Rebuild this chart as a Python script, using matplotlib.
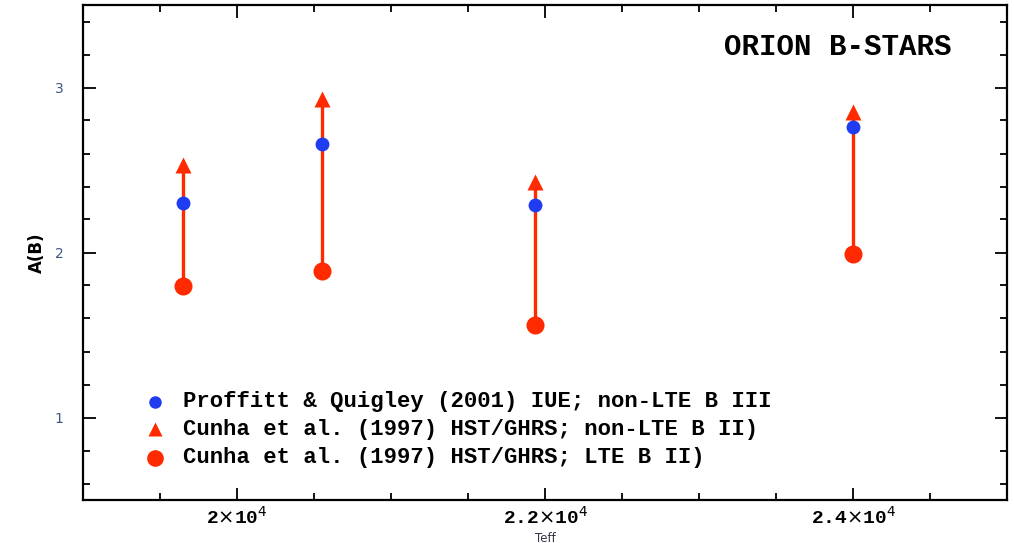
import matplotlib
matplotlib.use("Agg")
import matplotlib.pyplot as plt
from matplotlib.ticker import MultipleLocator

# Teff of the four Orion B stars
teff = [19650, 20550, 21935, 24000]
# boron abundances
pq_nlte = [2.30, 2.66, 2.29, 2.76]      # Proffitt & Quigley (2001)
cunha_nlte = [2.53, 2.93, 2.43, 2.85]   # Cunha et al. (1997) non-LTE
cunha_lte = [1.80, 1.89, 1.56, 1.99]    # Cunha et al. (1997) LTE

xticks = [20000, 22000, 24000]
xticklabels = [r'2$\times$10$^4$', r'2.2$\times$10$^4$', r'2.4$\times$10$^4$']
yticks = [1, 2, 3]

legend_labels = ['Proffitt & Quigley (2001) IUE; non-LTE B III',
                 'Cunha et al. (1997) HST/GHRS; non-LTE B II)',
                 'Cunha et al. (1997) HST/GHRS; LTE B II)']

red = '#ff2a00'
blue = '#1f3cf0'
mono = 'Liberation Mono'

fig = plt.figure(figsize=(10.14, 5.43), dpi=100)
ax = fig.add_axes([83 / 1014, 43 / 543, 924 / 1014, 495 / 543])

ax.vlines(teff, cunha_lte, cunha_nlte, color=red, lw=2.4, zorder=2)
ax.plot(teff, cunha_nlte, '^', color=red, ms=12, mec='none', zorder=3)
ax.plot(teff, cunha_lte, 'o', color=red, ms=13, mec='none', zorder=3)
ax.plot(teff, pq_nlte, 'o', color=blue, ms=10, mec='none', zorder=4)

ax.set_xlim(19000, 25000)
ax.set_ylim(0.5, 3.5)
ax.set_xticks(xticks)
ax.set_xticklabels(xticklabels, fontfamily=mono, fontweight='bold', fontsize=14)
ax.set_yticks(yticks)
ax.set_yticklabels([str(v) for v in yticks], fontsize=10, color='#3b5680')
ax.xaxis.set_minor_locator(MultipleLocator(500))
ax.yaxis.set_minor_locator(MultipleLocator(0.2))
ax.tick_params(which='both', direction='in', top=True, right=True, width=1.3)
ax.tick_params(which='major', length=9, pad=4)
ax.tick_params(which='minor', length=5)
ax.tick_params(axis='y', pad=14)
for s in ax.spines.values():
    s.set_linewidth(1.6)

fig.text(545 / 1014, 1 - 538 / 543, 'Teff', fontsize=8.5, color='#333344',
         ha='center', va='center')
ax.set_ylabel('A(B)', fontsize=12, fontweight='bold', labelpad=6)

ax.text(0.94, 0.915, 'ORION B-STARS', transform=ax.transAxes, ha='right',
        va='center', fontfamily=mono, fontweight='bold', fontsize=21)

# hand-made legend
rows = [0.198, 0.143, 0.085]
styles = [('o', blue, 9), ('^', red, 10), ('o', red, 12)]
for (m, c, s), yy, lab in zip(styles, rows, legend_labels):
    ax.plot([0.078], [yy], m, color=c, ms=s, mec='none', transform=ax.transAxes,
            clip_on=False)
    ax.text(0.108, yy, lab, transform=ax.transAxes, va='center',
            fontfamily=mono, fontweight='bold', fontsize=16)

fig.savefig('out.png', dpi=100)
